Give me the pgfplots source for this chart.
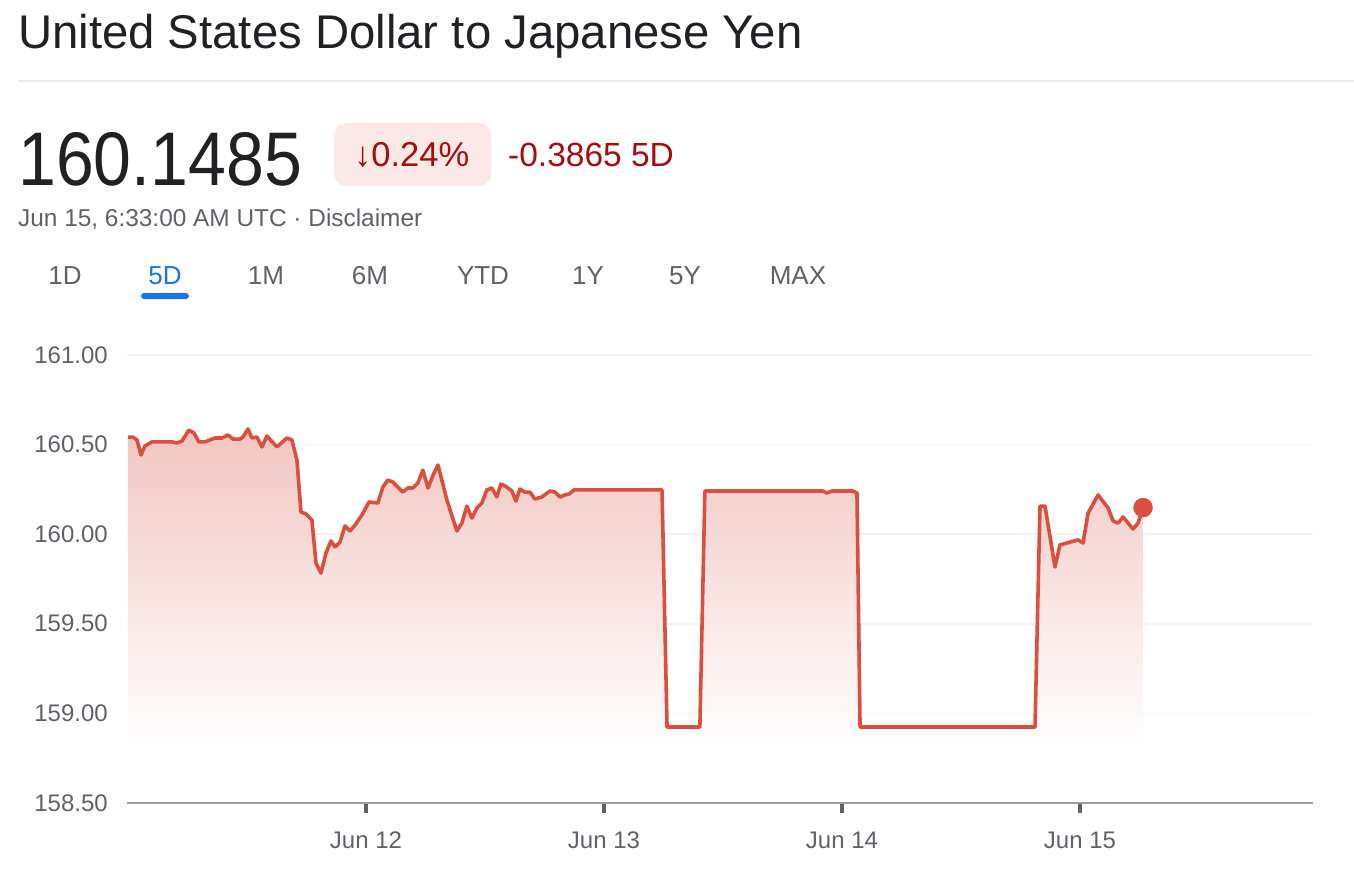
\documentclass[border=0pt]{standalone}
\usepackage{pgfplots}
\pgfplotsset{compat=1.18}
\usepackage{pgfplotstable}
\usepackage{fontspec}
\setmainfont{Liberation Sans}
\definecolor{lineRed}{HTML}{DB4F3F}
\definecolor{fillTop}{HTML}{F0BFBA}
\definecolor{txtDark}{HTML}{202124}
\definecolor{txtGray}{HTML}{5F6368}
\definecolor{txtRed}{HTML}{A50E0E}
\definecolor{badgeBg}{HTML}{FCE8E6}
\definecolor{gBlue}{HTML}{1A73E8}
\definecolor{gridGray}{HTML}{F1F3F4}
\definecolor{axisGray}{HTML}{9AA0A6}
\definecolor{sepGray}{HTML}{E8EAED}

\pgfplotstableread{
d v
0.000 160.542
0.021 160.542
0.038 160.526
0.055 160.442
0.071 160.492
0.101 160.515
0.134 160.515
0.185 160.515
0.206 160.509
0.227 160.520
0.256 160.581
0.277 160.565
0.298 160.515
0.324 160.515
0.366 160.537
0.395 160.537
0.420 160.554
0.441 160.531
0.471 160.531
0.483 160.542
0.504 160.587
0.521 160.537
0.542 160.542
0.563 160.487
0.584 160.548
0.626 160.487
0.668 160.537
0.689 160.526
0.710 160.414
0.727 160.124
0.748 160.113
0.773 160.079
0.790 159.839
0.811 159.783
0.832 159.895
0.853 159.962
0.870 159.929
0.891 159.956
0.912 160.046
0.933 160.018
0.954 160.051
0.983 160.107
1.013 160.180
1.050 160.174
1.071 160.263
1.092 160.302
1.113 160.291
1.134 160.263
1.155 160.235
1.176 160.258
1.197 160.258
1.218 160.286
1.239 160.358
1.261 160.258
1.282 160.330
1.303 160.386
1.340 160.191
1.382 160.018
1.403 160.062
1.424 160.157
1.445 160.090
1.466 160.146
1.487 160.174
1.508 160.247
1.529 160.258
1.550 160.208
1.567 160.280
1.592 160.263
1.613 160.241
1.630 160.185
1.647 160.252
1.668 160.235
1.689 160.235
1.710 160.196
1.739 160.208
1.773 160.241
1.794 160.235
1.815 160.208
1.836 160.219
1.853 160.224
1.874 160.247
2.244 160.247
2.265 158.924
2.403 158.924
2.424 160.241
2.920 160.241
2.937 160.230
2.958 160.241
3.046 160.241
3.063 160.230
3.076 158.924
3.811 158.924
3.832 160.157
3.853 160.157
3.895 159.817
3.916 159.940
3.958 159.956
3.992 159.968
4.013 159.951
4.034 160.118
4.076 160.219
4.118 160.146
4.139 160.074
4.160 160.062
4.181 160.096
4.223 160.029
4.244 160.062
4.265 160.1485
}\fxdata

\begin{document}
\begin{tikzpicture}
\path[use as bounding box] (0,0) rectangle (1354pt,-880pt);
% header
\node[anchor=base west, inner sep=0pt, text=txtDark] at (18pt,-49pt) {\fontsize{47.3}{47}\selectfont United States Dollar to Japanese Yen};
\draw[sepGray, line width=1.5pt] (18pt,-81pt) -- (1354pt,-81pt);
\node[anchor=base west, inner sep=0pt, text=txtDark] at (18pt,-185pt) {\scalebox{0.895}[1]{\fontsize{76}{76}\selectfont 160.1485}};
\fill[badgeBg, rounded corners=12pt] (334pt,-123pt) rectangle (491pt,-186pt);
\node[anchor=base west, inner sep=0pt, text=txtRed] at (354pt,-166pt) {\fontsize{34.5}{34}\selectfont ↓0.24\%};
\node[anchor=base west, inner sep=0pt, text=txtRed] at (508pt,-166pt) {\fontsize{33.5}{33}\selectfont -0.3865 5D};
\node[anchor=base west, inner sep=0pt, text=txtGray] at (18pt,-226pt) {\fontsize{24.4}{24}\selectfont Jun 15, 6:33:00 AM UTC · Disclaimer};
\foreach \lab/\cx in {1D/65, 1M/266, 6M/370, YTD/483, 1Y/588, 5Y/685, MAX/798}{
  \node[anchor=base, inner sep=0pt, text=txtGray] at (\cx pt,-284pt) {\fontsize{26}{26}\selectfont \lab};
}
\node[anchor=base, inner sep=0pt, text=gBlue] at (165pt,-284pt) {\fontsize{26}{26}\selectfont 5D};
\fill[gBlue, rounded corners=3pt] (141pt,-293pt) rectangle (189pt,-299pt);

\begin{axis}[
  at={(127pt,-803pt)}, anchor=south west,
  scale only axis, width=1186pt, height=448pt,
  xmin=-0.004, xmax=4.979, ymin=158.5, ymax=161,
  clip=false,
  axis x line*=bottom, axis y line*=left,
  y axis line style={draw=none},
  x axis line style={axisGray, line width=2pt},
  xtick={1,2,3,4},
  xticklabels={Jun 12,Jun 13,Jun 14,Jun 15},
  ytick={158.5,159,159.5,160,160.5,161},
  yticklabels={158.50,159.00,159.50,160.00,160.50,161.00},
  ymajorgrids,
  grid style={gridGray, line width=1.5pt},
  major tick length=10pt,
  xtick style={txtGray, line width=3.5pt, yshift=-10pt},
  ytick style={draw=none},
  xticklabel style={anchor=base, inner sep=0pt, yshift=-45pt, text=txtGray, font=\fontsize{24}{24}\selectfont},
  yticklabel style={anchor=base east, inner sep=0pt, xshift=-19pt, yshift=-8pt, text=txtGray, font=\fontsize{24}{24}\selectfont},
]
\addplot[draw=none, top color=fillTop, bottom color=white, fill opacity=0.9] table[x=d, y=v] {\fxdata} -- (axis cs:4.265,158.82) -- (axis cs:0,158.82) -- cycle;
\addplot[lineRed, line width=3.6pt, line join=round, mark=none] table[x=d, y=v] {\fxdata};
\addplot[only marks, mark=*, mark size=9.5pt, lineRed] coordinates {(4.265,160.1485)};
\end{axis}
\end{tikzpicture}
\end{document}
